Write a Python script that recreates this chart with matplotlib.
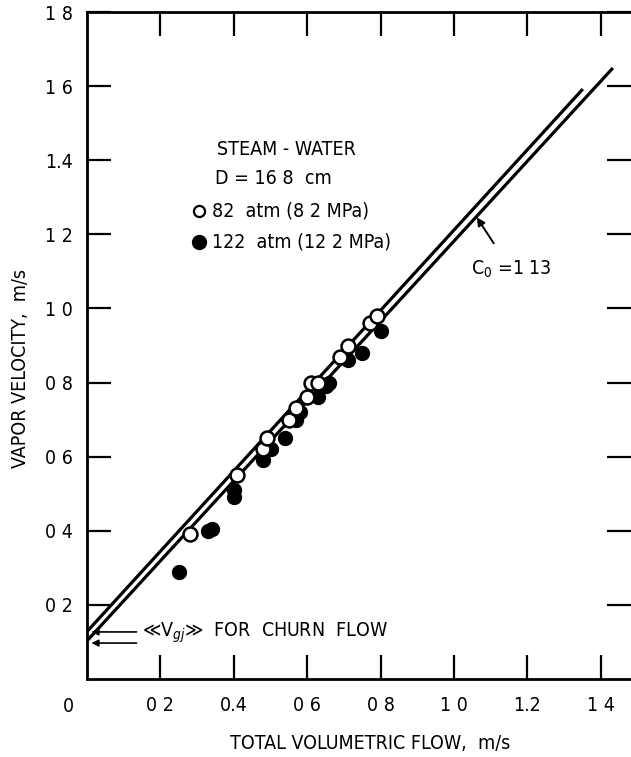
import matplotlib
matplotlib.use("Agg")
import matplotlib.pyplot as plt

# ---- data ----
open_j = [0.28, 0.41, 0.48, 0.49, 0.55, 0.57, 0.60, 0.61, 0.63, 0.69, 0.71, 0.77, 0.79]
open_v = [0.39, 0.55, 0.62, 0.65, 0.70, 0.73, 0.76, 0.80, 0.80, 0.87, 0.90, 0.96, 0.98]
fill_j = [0.25, 0.33, 0.34, 0.40, 0.40, 0.48, 0.50, 0.54, 0.57, 0.58, 0.63, 0.65, 0.66, 0.71, 0.75, 0.80]
fill_v = [0.29, 0.40, 0.405, 0.49, 0.51, 0.59, 0.62, 0.65, 0.70, 0.72, 0.76, 0.79, 0.80, 0.86, 0.88, 0.94]

line_upper_j = [0.0, 1.351]
line_upper_v = [0.128, 1.592]
line_lower_j = [0.0, 1.433]
line_lower_v = [0.103, 1.649]

xticks = [0.2, 0.4, 0.6, 0.8, 1.0, 1.2, 1.4]
xticklabels = ["0 2", "0.4", "0 6", "0 8", "1 0", "1.2", "1 4"]
yticks = [0.2, 0.4, 0.6, 0.8, 1.0, 1.2, 1.4, 1.6, 1.8]
yticklabels = ["0 2", "0 4", "0 6", "0 8", "1 0", "1 2", "1.4", "1 6", "1 8"]

plt.rcParams['font.family'] = ['DejaVu Sans']
plt.rcParams['font.stretch'] = 'condensed'

fig = plt.figure(figsize=(6.31, 7.57), dpi=100)
W, H = 631, 757
ax = fig.add_axes([87 / W, (H - 679) / H, (631 - 87) / W, (679 - 12) / H])
ax.set_xlim(0, (631 - 87) / 367)
ax.set_ylim(0, 1.8)

for s in ['left', 'bottom', 'top']:
    ax.spines[s].set_linewidth(2.0)
ax.spines['right'].set_visible(False)

ax.set_xticks(xticks)
ax.set_xticklabels(xticklabels)
ax.set_yticks(yticks)
ax.set_yticklabels(yticklabels)
ax.tick_params(axis='both', direction='in', length=17, width=1.6, labelsize=14,
               top=True, right=True, pad=12)
ax.tick_params(axis='y', pad=10)

# origin label
ax.text(-0.05, -0.075, "0", ha='center', va='center', fontsize=14, clip_on=False)

ax.plot(line_upper_j, line_upper_v, color='black', lw=2.3, solid_capstyle='butt')
ax.plot(line_lower_j, line_lower_v, color='black', lw=2.3, solid_capstyle='butt')

ax.plot(fill_j, fill_v, 'o', ms=10, color='black', mec='black')
ax.plot(open_j, open_v, 'o', ms=10, mfc='white', mec='black', mew=1.8)

ax.set_xlabel("TOTAL VOLUMETRIC FLOW,  m/s", fontsize=14, labelpad=14)
ax.xaxis.set_label_coords((370 - 87) / 544, -0.082)
ax.set_ylabel("VAPOR VELOCITY,  m/s", fontsize=14, labelpad=12)
ax.yaxis.set_label_coords(-0.105, (679 - 368) / 667)

# legend-like text
ax.text(0.355, 1.43, "STEAM - WATER", fontsize=14, va='center')
ax.text(0.35, 1.35, "D = 16 8  cm", fontsize=14, va='center')
ax.plot([0.305], [1.262], 'o', ms=8, mfc='white', mec='black', mew=1.6)
ax.text(0.34, 1.262, "82  atm (8 2 MPa)", fontsize=14, va='center')
ax.plot([0.305], [1.178], 'o', ms=10, color='black')
ax.text(0.34, 1.178, "122  atm (12 2 MPa)", fontsize=14, va='center')

# C0 annotation
ax.annotate("C$_0$ =1 13", xy=(1.062, 1.246), xytext=(1.155, 1.105),
            fontsize=14, ha='center', va='center',
            arrowprops=dict(arrowstyle='-|>', color='black', lw=1.4,
                            shrinkA=11, shrinkB=0, mutation_scale=12))

# Vgj arrows
ax.annotate("", xy=(0.012, 0.127), xytext=(0.135, 0.127),
            arrowprops=dict(arrowstyle='-|>', color='black', lw=1.2, mutation_scale=10,
                            shrinkA=0, shrinkB=0))
ax.annotate("", xy=(0.012, 0.097), xytext=(0.135, 0.097),
            arrowprops=dict(arrowstyle='-|>', color='black', lw=1.2, mutation_scale=10,
                            shrinkA=0, shrinkB=0))
ax.text(0.15, 0.125, "≪V$_{gj}$≫  FOR  CHURN  FLOW", fontsize=14, va='center')

fig.savefig("out.png", dpi=100)
